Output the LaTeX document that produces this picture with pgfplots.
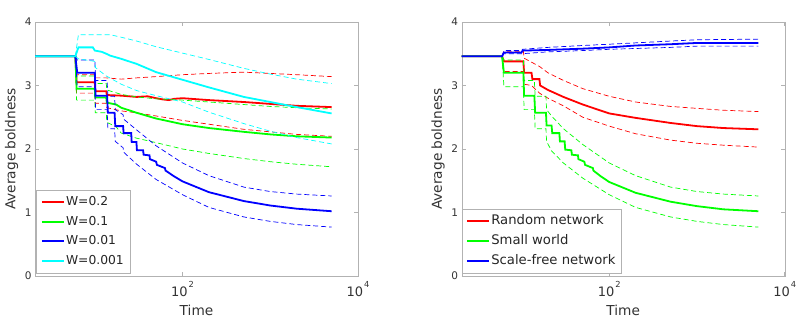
\documentclass[border=0pt]{standalone}
\usepackage{pgfplots}
\pgfplotsset{compat=1.18}
\usepackage{fontspec}
\setmainfont{DejaVu Sans}
\definecolor{mred}{rgb}{1,0,0}
\definecolor{mgreen}{rgb}{0,1,0}
\definecolor{mblue}{rgb}{0,0,1}
\definecolor{mcyan}{rgb}{0,1,1}
\newcommand{\tenp}[1]{10\hspace{1pt}\raisebox{9pt}{\fontsize{8.3}{9}\selectfont #1}}
\pgfplotsset{
  legend image code/.code={\draw[#1, line width=1.6pt] (0pt,0pt) -- (22pt,0pt);},
  meanline/.style={line width=1.8pt},
  bndline/.style={line width=0.7pt, dash pattern=on 5pt off 3pt},
}
\begin{document}
\begin{tikzpicture}[x=1pt,y=1pt]
\path[use as bounding box] (0,0) rectangle (800,321);
% ---------------- left panel ----------------
\begin{axis}[at={(35pt,45pt)}, anchor=south west,
    scale only axis, width=323pt, height=254pt,
    xmode=log, xmin=2.08, xmax=10000, ymin=0, ymax=4,
    xtick={100,10000}, xticklabels={\tenp{2},\tenp{4}},
    xminorticks=false, yminorticks=false,
    ytick={0,1,2,3,4},
    tick align=inside, xtick pos=both, ytick pos=both,
    major tick length=4pt,
    axis line style={gray!60}, tick style={gray!60, line width=0.5pt},
    /pgf/number format/assume math mode=true,
    yticklabel style={text=black!80, font=\fontsize{10.5}{12}\selectfont},
    xticklabel style={text=black!80, font=\fontsize{13}{15}\selectfont, yshift=-1.5pt},
    xlabel=Time, ylabel=Average boldness,
    label style={text=black!80, font=\fontsize{13.7}{16}\selectfont},
    xlabel style={at={(axis description cs:0.5,-0.134)}, anchor=center},
    ylabel style={at={(axis description cs:-0.0728,0.5)}, anchor=center},
    legend cell align=left,
  legend style={at={(axis description cs:0,0)}, anchor=south west, xshift=1pt, yshift=3pt,
    draw=gray!60, text=black!85, font=\fontsize{12.3}{14}\selectfont,
    inner sep=4.75pt, row sep=5pt,
    nodes={text height=9pt, text depth=2.5pt, inner sep=1.5pt}}]
% W=0.2
\addplot[mred, meanline] coordinates {(2.08,3.46)(6,3.46)(6.2,3.05)(10,3.05)(10.1,2.91)(13.5,2.91)(13.7,2.85)(20,2.84)(30,2.82)(40,2.83)(50,2.80)(60,2.78)(70,2.77)(80,2.79)(100,2.80)(200,2.77)(500,2.74)(1000,2.71)(2000,2.68)(5000,2.66)};
\addlegendentry{W=0.2}
\addplot[mred, bndline, forget plot] coordinates {(6,3.46)(6.2,3.17)(10,3.17)(10.1,3.12)(13.5,3.12)(20,3.10)(30,3.12)(50,3.14)(100,3.17)(200,3.19)(500,3.21)(1000,3.19)(2000,3.17)(5000,3.14)};
\addplot[mred, bndline, forget plot] coordinates {(6,3.46)(6.2,2.88)(10,2.88)(10.1,2.72)(13.5,2.72)(13.7,2.65)(20,2.60)(30,2.57)(50,2.52)(100,2.45)(200,2.39)(500,2.31)(1000,2.27)(2000,2.23)(5000,2.20)};
% W=0.1
\addplot[mgreen, meanline] coordinates {(2.08,3.46)(6,3.46)(6.2,2.95)(10,2.95)(10.1,2.81)(13.5,2.81)(13.7,2.73)(17.5,2.70)(20,2.65)(30,2.57)(50,2.48)(100,2.39)(200,2.33)(500,2.27)(1000,2.23)(2000,2.20)(5000,2.18)};
\addlegendentry{W=0.1}
\addplot[mgreen, bndline, forget plot] coordinates {(6,3.46)(6.2,3.15)(10,3.15)(10.1,3.03)(13.5,3.03)(13.7,2.93)(20,2.86)(30,2.82)(50,2.79)(100,2.77)(200,2.74)(500,2.70)(1000,2.67)(2000,2.65)(5000,2.63)};
\addplot[mgreen, bndline, forget plot] coordinates {(6,3.46)(6.2,2.77)(10,2.77)(10.1,2.57)(13.5,2.57)(13.7,2.42)(17.5,2.35)(20,2.25)(30,2.17)(50,2.10)(100,2.00)(200,1.93)(500,1.85)(1000,1.80)(2000,1.76)(5000,1.72)};
% W=0.01
\addplot[mblue, meanline] coordinates {(2.08,3.46)(6,3.46)(6.3,3.20)(10,3.20)(10.2,2.84)(13.8,2.84)(14.1,2.57)(16.8,2.57)(17.1,2.36)(21,2.36)(21.3,2.25)(26,2.25)(26.3,2.11)(29.8,2.11)(30.2,1.98)(35.5,1.98)(36,1.91)(42,1.90)(42.5,1.84)(50,1.80)(51,1.75)(63,1.70)(64,1.66)(80,1.57)(100,1.49)(200,1.32)(500,1.18)(1000,1.11)(2000,1.06)(5000,1.02)};
\addlegendentry{W=0.01}
\addplot[mblue, bndline, forget plot] coordinates {(6,3.46)(6.3,3.40)(10,3.40)(10.2,3.08)(13.8,3.08)(14.1,2.83)(16.8,2.83)(17.1,2.62)(21,2.54)(21.3,2.47)(30,2.30)(50,2.05)(100,1.78)(200,1.58)(500,1.40)(1000,1.33)(2000,1.29)(5000,1.26)};
\addplot[mblue, bndline, forget plot] coordinates {(6,3.46)(6.3,2.98)(10,2.98)(10.2,2.62)(13.8,2.62)(14.1,2.32)(16.8,2.32)(17.1,2.12)(21,2.02)(21.3,1.95)(30,1.76)(50,1.52)(100,1.28)(200,1.08)(500,0.93)(1000,0.86)(2000,0.81)(5000,0.77)};
% W=0.001
\addplot[mcyan, meanline] coordinates {(2.08,3.46)(6,3.46)(6.5,3.60)(9.5,3.60)(10,3.55)(12,3.53)(13.5,3.50)(15,3.47)(20,3.42)(30,3.34)(50,3.21)(100,3.09)(200,2.97)(500,2.82)(1000,2.74)(2000,2.66)(5000,2.56)};
\addlegendentry{W=0.001}
\addplot[mcyan, bndline, forget plot] coordinates {(6,3.46)(6.5,3.80)(15,3.80)(20,3.76)(30,3.70)(50,3.61)(100,3.51)(200,3.41)(500,3.27)(1000,3.18)(2000,3.10)(5000,3.03)};
\addplot[mcyan, bndline, forget plot] coordinates {(6,3.46)(6.5,3.42)(10,3.38)(10.2,3.28)(13.5,3.15)(20,3.02)(30,2.92)(50,2.84)(100,2.74)(200,2.58)(500,2.40)(1000,2.28)(2000,2.18)(5000,2.08)};
\end{axis}
% ---------------- right panel ----------------
\begin{axis}[at={(461.7pt,45pt)}, anchor=south west,
    scale only axis, width=323pt, height=254pt,
    xmode=log, xmin=2.08, xmax=10000, ymin=0, ymax=4,
    xtick={100,10000}, xticklabels={\tenp{2},\tenp{4}},
    xminorticks=false, yminorticks=false,
    ytick={0,1,2,3,4},
    tick align=inside, xtick pos=both, ytick pos=both,
    major tick length=4pt,
    axis line style={gray!60}, tick style={gray!60, line width=0.5pt},
    /pgf/number format/assume math mode=true,
    yticklabel style={text=black!80, font=\fontsize{10.5}{12}\selectfont},
    xticklabel style={text=black!80, font=\fontsize{13}{15}\selectfont, yshift=-1.5pt},
    xlabel=Time, ylabel=Average boldness,
    label style={text=black!80, font=\fontsize{13.7}{16}\selectfont},
    xlabel style={at={(axis description cs:0.5,-0.134)}, anchor=center},
    ylabel style={at={(axis description cs:-0.0728,0.5)}, anchor=center},
    legend cell align=left,
  legend style={at={(axis description cs:0,0)}, anchor=south west, xshift=0.3pt, yshift=3pt,
    draw=gray!60, text=black!85, font=\fontsize{13.2}{15}\selectfont,
    inner sep=4pt, row sep=4pt,
    nodes={text height=10pt, text depth=3pt, inner sep=1.5pt}}]
% Random network
\addplot[mred, meanline] coordinates {(2.08,3.46)(6,3.46)(6.3,3.38)(10.5,3.38)(10.7,3.20)(13,3.20)(13.3,3.10)(16,3.10)(16.3,3.00)(20,2.93)(30,2.82)(50,2.70)(100,2.56)(200,2.49)(500,2.41)(1000,2.36)(2000,2.33)(5000,2.31)};
\addlegendentry{Random network}
\addplot[mred, bndline, forget plot] coordinates {(6,3.46)(6.3,3.54)(10.5,3.54)(10.7,3.43)(16,3.30)(20,3.20)(30,3.08)(50,2.95)(100,2.83)(200,2.74)(500,2.67)(1000,2.64)(2000,2.61)(5000,2.59)};
\addplot[mred, bndline, forget plot] coordinates {(6,3.46)(6.3,3.22)(10.5,3.22)(10.7,3.02)(13,3.00)(16,2.88)(20,2.80)(30,2.68)(50,2.50)(100,2.36)(200,2.24)(500,2.14)(1000,2.09)(2000,2.06)(5000,2.03)};
% Small world
\addplot[mgreen, meanline] coordinates {(2.08,3.46)(6,3.46)(6.3,3.20)(10.5,3.20)(10.7,2.84)(14,2.84)(14.3,2.57)(19,2.57)(19.3,2.37)(22,2.37)(22.4,2.25)(27,2.25)(27.4,2.12)(31,2.12)(31.5,1.99)(37,1.98)(37.5,1.91)(44,1.90)(44.5,1.84)(52,1.80)(53,1.75)(65,1.70)(66,1.66)(80,1.57)(100,1.48)(200,1.31)(500,1.17)(1000,1.10)(2000,1.05)(5000,1.02)};
\addlegendentry{Small world}
\addplot[mgreen, bndline, forget plot] coordinates {(6,3.46)(6.3,3.40)(10.5,3.40)(10.7,3.08)(14,3.08)(14.3,2.83)(19,2.83)(19.3,2.62)(22,2.52)(30,2.32)(50,2.07)(100,1.78)(200,1.58)(500,1.40)(1000,1.33)(2000,1.29)(5000,1.26)};
\addplot[mgreen, bndline, forget plot] coordinates {(6,3.46)(6.3,2.98)(10.5,2.98)(10.7,2.62)(14,2.62)(14.3,2.32)(19,2.32)(19.3,2.12)(22,1.97)(30,1.78)(50,1.54)(100,1.28)(200,1.08)(500,0.93)(1000,0.86)(2000,0.81)(5000,0.77)};
% Scale-free network
\addplot[mblue, meanline] coordinates {(2.08,3.46)(6,3.46)(6.3,3.52)(10,3.52)(10.3,3.55)(20,3.56)(50,3.58)(100,3.60)(200,3.63)(500,3.65)(1000,3.67)(2000,3.67)(5000,3.67)};
\addlegendentry{Scale-free network}
\addplot[mblue, bndline, forget plot] coordinates {(6,3.46)(6.3,3.55)(10,3.55)(10.3,3.57)(20,3.60)(50,3.63)(100,3.65)(500,3.70)(1000,3.72)(5000,3.73)};
\addplot[mblue, bndline, forget plot] coordinates {(6,3.46)(6.3,3.50)(10,3.50)(20,3.53)(50,3.55)(100,3.57)(500,3.60)(1000,3.62)(5000,3.62)};
\end{axis}
\end{tikzpicture}
\end{document}
